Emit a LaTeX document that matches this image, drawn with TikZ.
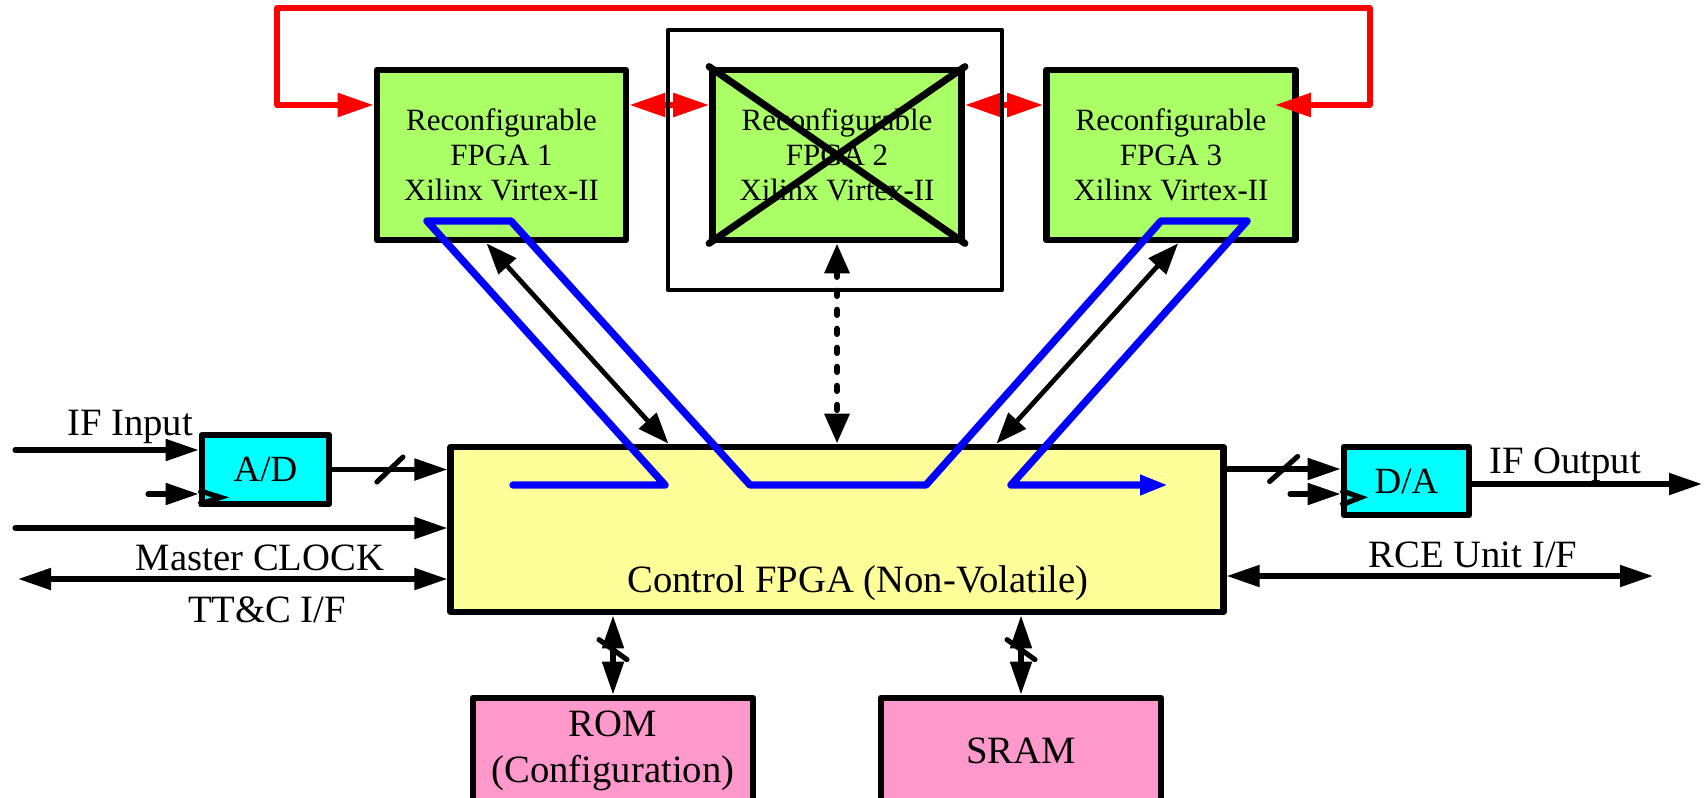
\documentclass[tikz,border=0pt]{standalone}
\usepackage{fontspec}
\setmainfont{Liberation Serif}
\usetikzlibrary{arrows.meta,calc}

\definecolor{fpgagreen}{RGB}{170,255,102}
\definecolor{ctrlyellow}{RGB}{255,255,153}
\definecolor{convcyan}{RGB}{0,255,255}
\definecolor{mempink}{RGB}{255,153,204}

\begin{document}
\begin{tikzpicture}[x=0.01cm,y=-0.01cm,
  box/.style={draw=black, line width=1.9pt, line join=round, inner sep=0pt},
  fpga/.style={box, fill=fpgagreen, minimum width=2.49cm, minimum height=1.70cm,
    align=center, font=\fontsize{8.8}{10}\selectfont},
  conv/.style={box, fill=convcyan, font=\fontsize{10.5}{12}\selectfont},
  mem/.style={box, fill=mempink, minimum width=2.80cm, minimum height=1.05cm,
    align=center, font=\fontsize{11}{13}\selectfont},
  bigtxt/.style={font=\fontsize{11}{13}\selectfont, inner sep=0pt},
  sig/.style={draw=black, line width=1.45pt, line cap=round},
  head/.style={arrows={-Triangle[length=3.3mm,width=2.1mm]}},
  dbl/.style={arrows={Triangle[length=3.3mm,width=2.1mm]-Triangle[length=3.3mm,width=2.1mm]}},
  thindbl/.style={draw=black, line width=1.35pt,
    arrows={Triangle[length=3.1mm,width=2.3mm]-Triangle[length=3.1mm,width=2.3mm]}},
  redline/.style={draw=red, line width=1.6pt, line join=round},
  reddbl/.style={arrows={Triangle[length=3.6mm,width=2.3mm]-Triangle[length=3.6mm,width=2.3mm]}},
  blueline/.style={draw=blue, line width=2.1pt, line join=round, line cap=round},
  busslash/.style={draw=black, line width=1.45pt, line cap=round}
]
\useasboundingbox (0,0) rectangle (1704,797);
\clip (0,0) rectangle (1704,797);

% cage around the second reconfigurable FPGA
\node[minimum width=3.34cm, minimum height=2.60cm, inner sep=0pt, outer sep=0pt]
  (cage) at (835,160) {};

% reconfigurable FPGAs
\node[fpga] (fpga1) at (501.5,155) {Reconfigurable\\FPGA 1\\Xilinx Virtex-II};
\node[fpga] (fpga2) at (837,155) {Reconfigurable\\FPGA 2\\Xilinx Virtex-II};
\node[fpga] (fpga3) at (1171,155) {Reconfigurable\\FPGA 3\\Xilinx Virtex-II};
\draw[line width=2pt, line cap=round] (fpga2.north west) -- (fpga2.south east)
  (fpga2.north east) -- (fpga2.south west);

% control FPGA
\node[box, fill=ctrlyellow, minimum width=7.72cm, minimum height=1.65cm] (ctrl) at (837,529.5) {};
\node[bigtxt, anchor=base] (ctrltxt) at (858,592) {Control FPGA (Non-Volatile)};

% converters
\node[conv, minimum width=1.27cm, minimum height=0.69cm] (ad) at (265.5,469.5) {A/D};
\node[conv, minimum width=1.25cm, minimum height=0.68cm] (da) at (1406.5,481) {D/A};
\draw[line width=1.45pt, line join=miter] ($(ad.south west)+(0,-17)$) -- ($(ad.south west)+(22,-10)$) -- ($(ad.south west)+(0,-3)$);
\draw[line width=1.45pt, line join=miter] ($(da.south west)+(0,-28)$) -- ($(da.south west)+(20,-21)$) -- ($(da.south west)+(0,-13)$);

% memories
\node[mem] (rom) at (613,750.5) {ROM\\(Configuration)};
\node[mem] (sram) at (1021,750.5) {SRAM};

% red links between the reconfigurable FPGAs
\coordinate (fpga1in) at ($(fpga1.west)+(0,-50)$);
\coordinate (fpga3in) at ($(fpga3.east)+(-24,-50)$);
\coordinate (loopR) at (1370,8);
\coordinate (loopL) at (277,8);
\draw[redline, reddbl] (fpga3in) -| (loopR) -- (loopL) |- (fpga1in);
\draw[redline, reddbl] ($(fpga1.east)+(0,-50)$) -- ($(fpga2.west)+(0,-50)$);
\draw[redline, reddbl] ($(fpga2.east)+(0,-50)$) -- ($(fpga3.west)+(0,-50)$);
\draw[black, line width=1.25pt, line join=round] (cage.north west) rectangle (cage.south east);

% links between control FPGA and the reconfigurable FPGAs
\draw[thindbl] ($(fpga1.south west)+(113,0)$) -- ($(ctrl.north west)+(221,0)$);
\draw[thindbl] ($(fpga3.south west)+(135,0)$) -- ($(ctrl.north west)+(549,0)$);
\draw[draw=black, line width=1.8pt, line cap=round, dash pattern=on 0.05cm off 0.14cm,
  arrows={Triangle[length=3mm,width=2.4mm]-Triangle[length=3mm,width=2.4mm]}]
  (fpga2.south) -- (fpga2.south |- ctrl.north);

% data path
\draw[blueline, arrows={-Triangle[length=2.8mm,width=1.9mm]}]
  (513,485) -- (665,485) -- (427,221) -- (511,221) -- (750,485) -- (926,485)
  -- (1161,221) -- (1247,221) -- (1011,485) -- (1168,485);

% left side signals
\coordinate (ifsrc) at (15,450);
\coordinate (adclk) at (148,494);
\coordinate (mcsrc) at (15,528);
\coordinate (ttend) at (18,579);
\draw[sig, head] (ifsrc) -- (ifsrc -| ad.west);
\draw[sig, head] (adclk) -- (adclk -| ad.west);
\draw[sig, head] (ad.east) -- (ad.east -| ctrl.west);
\draw[sig, head] (mcsrc) -- (mcsrc -| ctrl.west);
\draw[sig, dbl] (ttend) -- (ttend -| ctrl.west);
\coordinate (adbus) at ($(ad.east)!0.5!(ad.east -| ctrl.west)$);
\draw[busslash] ($(adbus)+(-13,12.5)$) -- ($(adbus)+(13,-12.5)$);

\node[bigtxt, anchor=base] (lifin) at (130,435) {IF Input};
\node[bigtxt, anchor=base] (lmc) at (260,570) {Master CLOCK};
\node[bigtxt, anchor=base] (ltt) at (267,622) {TT\&C I/F};

% right side signals
\coordinate (darow) at (0,469);
\coordinate (daclk) at (1290,494);
\coordinate (ifout) at (1702,484);
\coordinate (rceend) at (1653,576);
\draw[sig, head] (ctrl.east |- darow) -- (da.west |- darow);
\draw[sig, head] (daclk) -- (daclk -| da.west);
\draw[sig, head] (da.east |- ifout) -- (ifout);
\draw[sig, dbl] (ctrl.east |- rceend) -- (rceend);
\coordinate (dabus) at ($(ctrl.east |- darow)!0.5!(da.west |- darow)$);
\draw[busslash] ($(dabus)+(-14,12.5)$) -- ($(dabus)+(14,-12.5)$);

\node[bigtxt, anchor=base] (lifout) at (1565,473) {IF Output};
\node[bigtxt, anchor=base] (lrce) at (1473,567) {RCE Unit I/F};

% memory buses
\draw[sig, dbl] (ctrl.south -| rom.north) -- (rom.north);
\draw[sig, dbl] (ctrl.south -| sram.north) -- (sram.north);
\draw[busslash] ($(rom.north)+(-14,-55)$) -- ($(rom.north)+(14,-35)$);
\draw[busslash] ($(sram.north)+(-14,-55)$) -- ($(sram.north)+(14,-35)$);
\end{tikzpicture}
\end{document}
